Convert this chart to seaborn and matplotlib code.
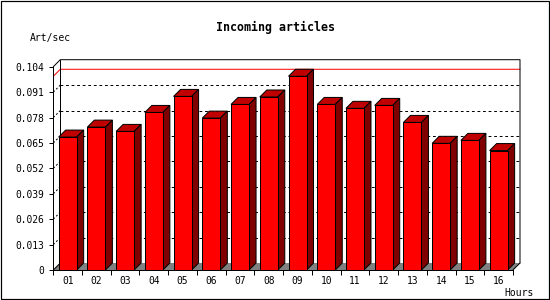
import matplotlib
matplotlib.use("Agg")
import matplotlib.pyplot as plt
import seaborn as sns
import numpy as np
from matplotlib.patches import Polygon, Rectangle
from matplotlib.transforms import IdentityTransform
from matplotlib.lines import Line2D

# ---- data ----
hours = ["01", "02", "03", "04", "05", "06", "07", "08",
         "09", "10", "11", "12", "13", "14", "15", "16"]
rates = [0.0680, 0.0731, 0.0709, 0.0806, 0.0888, 0.0777, 0.0847, 0.0885,
         0.0991, 0.0847, 0.0827, 0.0842, 0.0755, 0.0648, 0.0663, 0.0611]
yticks = [0.0, 0.013, 0.026, 0.039, 0.052, 0.065, 0.078, 0.091, 0.104]
ytick_labels = ["0", "0.013", "0.026", "0.039", "0.052", "0.065", "0.078", "0.091", "0.104"]
title = "Incoming articles"
ylabel = "Art/sec"
xlabel = "Hours"

FRONT = "#ff0000"
TOP = "#c00000"
SIDE = "#800000"
FLOOR = "#808080"
PX = 0.72  # one pixel in points at 100 dpi

sns.set_style("white")
plt.rcParams['font.family'] = ['DejaVu Sans Mono', 'DejaVu Sans']
plt.rcParams['text.color'] = 'black'
plt.rcParams['xtick.labelcolor'] = 'black'
plt.rcParams['ytick.labelcolor'] = 'black'
plt.rcParams['xtick.color'] = 'black'
plt.rcParams['ytick.color'] = 'black'

W, H = 550, 300
fig = plt.figure(figsize=(5.5, 3), dpi=100)
ax = fig.add_axes([53.3 / W, 30 / H, 459.7 / W, 203.3 / H])
ax.patch.set_visible(False)

n = len(hours)
x0, x1 = -0.5, n - 0.5
ymax = yticks[-1]
DX, DY = 7, 7
disp = IdentityTransform()

ax.set_xlim(x0, x1)
ax.set_ylim(0, ymax)


def D(x, y):
    return ax.transData.transform((x, y))


def back(x, y):
    p = D(x, y)
    return (p[0] + DX, p[1] + DY)


def seg(pts, **kw):
    ax.add_artist(Line2D([p[0] for p in pts], [p[1] for p in pts], transform=disp,
                         clip_on=False, **kw))


# back wall
ax.add_artist(Polygon([back(x0, 0), back(x1, 0), back(x1, ymax), back(x0, ymax)],
                      closed=True, transform=disp, facecolor="white", edgecolor="none",
                      zorder=0.1, clip_on=False))
# dotted grid on back wall and side wall
for t in yticks[1:-1]:
    seg([back(x0, t), back(x1, t)], color="black", lw=PX,
        linestyle=(0, (2.78, 2.78)), zorder=0.2)
    seg([D(x0, t), back(x0, t)], color="black", lw=PX,
        linestyle=(0, (2.0, 2.0)), zorder=0.2)
# max line (red)
mx = max(rates)
seg([D(x0, mx), back(x0, mx), back(x1, mx)], color="#ff0000", lw=PX, zorder=0.25)
# wall edges
seg([D(x0, ymax), back(x0, ymax), back(x1, ymax), back(x1, 0)],
    color="black", lw=PX, zorder=0.3)
seg([back(x0, 0), back(x0, ymax)], color="black", lw=PX, zorder=0.3)
# floor
ax.add_artist(Polygon([D(x0, 0), D(x1, 0), back(x1, 0), back(x0, 0)], closed=True,
                      transform=disp, facecolor=FLOOR, edgecolor="none", zorder=0.4,
                      clip_on=False))
for xx in (x0, x1):
    seg([D(xx, 0), back(xx, 0)], color="black", lw=PX, zorder=0.45)

# front faces with seaborn
sns.barplot(x=hours, y=rates, color=FRONT, saturation=1, width=18 / 28.73,
            edgecolor="black", linewidth=PX, ax=ax, zorder=3)
ax.set_xlim(x0, x1)
ax.set_ylim(0, ymax)

for bar in ax.containers[0]:
    bx, bw, bh = bar.get_x(), bar.get_width(), bar.get_height()
    ax.add_artist(Polygon([D(bx, bh), D(bx + bw, bh), back(bx + bw, bh), back(bx, bh)],
                          closed=True, transform=disp, facecolor=TOP, edgecolor="black",
                          lw=PX, zorder=2.9, clip_on=False))
    ax.add_artist(Polygon([D(bx + bw, 0), D(bx + bw, bh), back(bx + bw, bh),
                           back(bx + bw, 0)],
                          closed=True, transform=disp, facecolor=SIDE, edgecolor="black",
                          lw=PX, zorder=2.9, clip_on=False))

# axes styling
for s in ("top", "right"):
    ax.spines[s].set_visible(False)
for s in ("left", "bottom"):
    ax.spines[s].set_color("black")
    ax.spines[s].set_linewidth(PX)
    ax.spines[s].set_zorder(4)

ax.set_yticks(yticks)
ax.set_yticklabels(ytick_labels)
ax.set_xticks(range(n))
ax.set_xticklabels(hours)
ax.set_xticks(np.arange(x0, x1 + 0.01, 1), minor=True)
ax.tick_params(axis="x", which="major", length=0, pad=4.5, labelsize=6.9,
               labelcolor="black")
ax.tick_params(axis="x", which="minor", bottom=True, length=3.6, width=PX,
               direction="out", color="black")
ax.tick_params(axis="y", left=True, length=2.9, width=PX, direction="out",
               color="black", pad=3.4, labelsize=6.9, labelcolor="black")
ax.set_xlabel("")
ax.set_ylabel("")

fig.text(275 / W, 1 - 27 / H, title, ha="center", va="center",
         fontsize=8.4, fontweight="bold", color="black")
fig.text(30 / W, 1 - 37.5 / H, ylabel, ha="left", va="center", fontsize=7, color="black")
fig.text(533.7 / W, 1 - 292.5 / H, xlabel, ha="right", va="center", fontsize=7,
         color="black")

fig.add_artist(Rectangle((0.5 / W, 1.2 / H), 548 / W, 297.5 / H, transform=fig.transFigure,
                         fill=False, edgecolor="black", lw=1.2 * PX))

fig.savefig("out.png", dpi=100, facecolor="white")
